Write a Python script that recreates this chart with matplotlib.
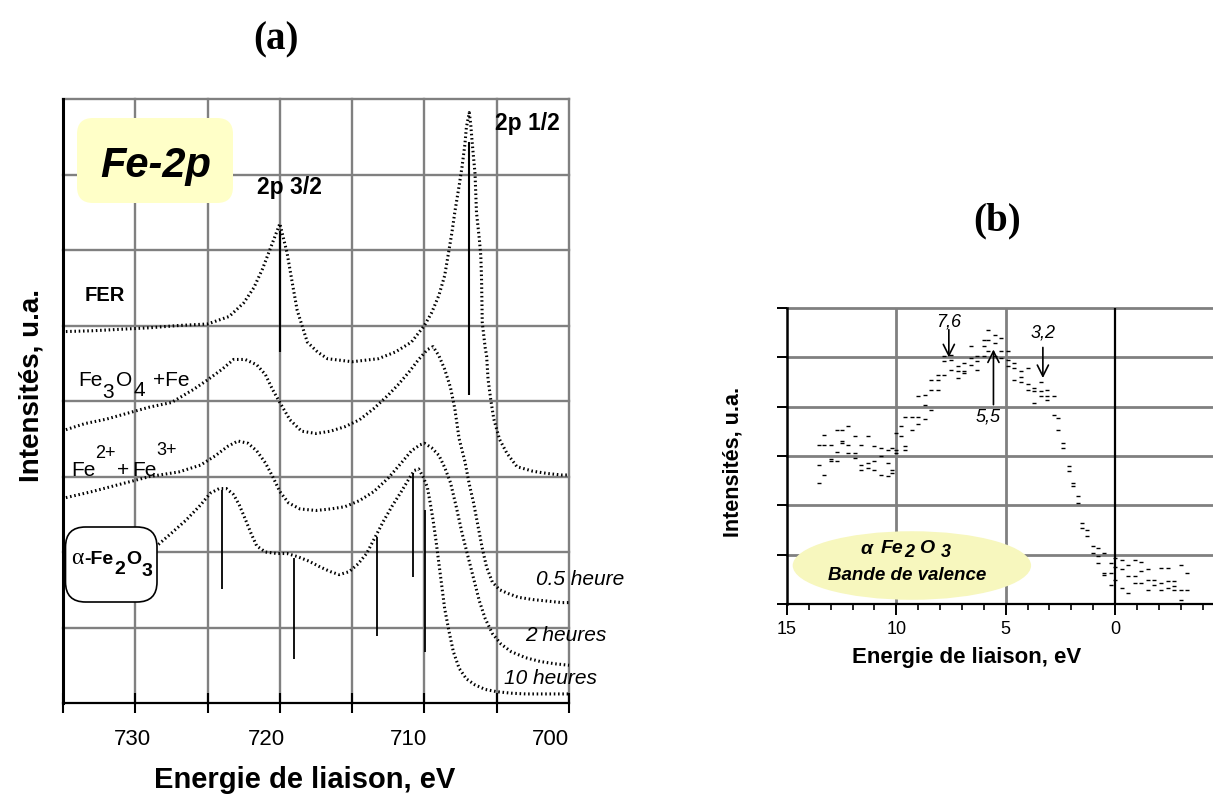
import matplotlib
matplotlib.use('Agg')
import matplotlib.pyplot as plt
from matplotlib.patches import FancyBboxPatch, Ellipse

plt.rcParams['font.family'] = ['Liberation Sans', 'DejaVu Sans']

# ---------------- data : panel (a) Fe-2p spectra ----------------
fer_x = [734.8, 733, 731, 729, 727, 725, 723.5, 722.5, 721.8, 721.2, 720.7, 720.3, 720.0,
         719.5, 719.1, 718.8, 718.6, 718.1, 717.4, 716.7, 715, 713.2, 712, 710.9, 710.0,
         709.5, 709.0, 708.6, 708.3, 708.1, 707.9, 707.6, 707.4, 707.2, 707.1, 706.9,
         706.8, 706.7, 706.5, 706.4, 706.2, 706.1, 706.05, 706.0, 705.8, 705.7, 705.6,
         705.4, 705.2, 704.8, 704.3, 703.6, 702.5, 701.5, 700.5, 700.0]
fer_y = [4.92, 4.93, 4.95, 4.97, 5.0, 5.02, 5.12, 5.3, 5.5, 5.75, 6.0, 6.2, 6.35,
         5.96, 5.52, 5.2, 5.08, 4.78, 4.65, 4.56, 4.52, 4.56, 4.65, 4.78, 5.0,
         5.17, 5.4, 5.66, 6.0, 6.23, 6.5, 6.85, 7.1, 7.4, 7.62, 7.82,
         7.67, 7.43, 7.01, 6.5, 6.14, 5.92, 5.62, 5.04, 4.71, 4.6, 4.29,
         4.0, 3.76, 3.49, 3.31, 3.13, 3.07, 3.04, 3.02, 3.02]

fe3o4_x = [734.8, 733.5, 732, 730.5, 729, 727.5, 726, 725, 724, 723.2, 722.4, 721.6, 721.0,
           720.5, 720.0, 719.3, 718.5, 717.5, 716.5, 715.5, 714.5, 713.5, 712.5, 711.8,
           711.0, 710.4, 709.8, 709.4, 709.0, 708.6, 708.2, 707.9, 707.6, 707.2, 706.9,
           706.6, 706.3, 706.0, 705.7, 705.3, 704.8, 704.2, 703.5, 702.5, 701.5, 700.5, 700.0]
fe3o4_y = [3.62, 3.7, 3.76, 3.84, 3.92, 3.98, 4.15, 4.28, 4.42, 4.55, 4.55, 4.48, 4.35,
           4.15, 3.98, 3.75, 3.6, 3.57, 3.6, 3.66, 3.75, 3.9, 4.08, 4.22,
           4.4, 4.55, 4.68, 4.72, 4.6, 4.42, 4.18, 3.9, 3.5, 3.2, 2.9,
           2.65, 2.35, 2.05, 1.8, 1.6, 1.5, 1.45, 1.4, 1.37, 1.35, 1.33, 1.33]

fe23_x = [734.8, 733, 731, 729, 727, 725.5, 724.5, 723.6, 722.9, 722.2, 721.6, 721.0, 720.5,
          720.0, 719.4, 718.6, 717.5, 716.5, 715.5, 714.5, 713.5, 712.5, 711.6, 710.9, 710.3,
          710.0, 709.5, 709.0, 708.6, 708.2, 707.8, 707.4, 707.0, 706.6, 706.2, 705.8, 705.3,
          704.7, 704, 703, 702, 701, 700]
fe23_y = [2.72, 2.8, 2.9, 3.0, 3.06, 3.15, 3.27, 3.4, 3.47, 3.44, 3.34, 3.18, 3.0,
          2.8, 2.65, 2.57, 2.55, 2.57, 2.6, 2.68, 2.8, 2.98, 3.18, 3.34, 3.42,
          3.44, 3.38, 3.28, 3.12, 2.92, 2.6, 2.25, 1.95, 1.65, 1.35, 1.12, 0.92,
          0.78, 0.68, 0.6, 0.55, 0.52, 0.5]

hema_x = [728.4, 727.5, 726.5, 725.5, 724.8, 724.2, 723.7, 723.2, 722.8, 722.4, 722.0, 721.6,
          721.0, 720.2, 719.5, 718.8, 718.0, 717.2, 716.5, 715.9, 715.2, 714.6, 714.0, 713.4,
          712.8, 712.2, 711.6, 711.1, 710.7, 710.4, 710.1, 709.8, 709.6, 709.4, 709.2, 709.0,
          708.8, 708.6, 708.3, 708.0, 707.6, 707.1, 706.5, 705.8, 705, 704, 703, 702, 701, 700]
hema_y = [2.1, 2.25, 2.42, 2.62, 2.78, 2.84, 2.84, 2.76, 2.62, 2.44, 2.25, 2.08,
          2.0, 1.98, 1.98, 1.94, 1.88, 1.8, 1.74, 1.7, 1.74, 1.84, 1.98, 2.2,
          2.42, 2.62, 2.8, 2.96, 3.08, 3.1, 3.0, 2.86, 2.65, 2.42, 2.15, 1.85,
          1.55, 1.25, 0.95, 0.68, 0.46, 0.32, 0.24, 0.18, 0.15, 0.13, 0.12, 0.12, 0.12, 0.12]

# reference lines (a)
fer_lines_x = [720.0, 706.9]
fer_lines_top = [6.25, 7.43]
fer_lines_bot = [4.65, 4.08]
hema_lines_x = [724.0, 719.0, 713.3, 710.8, 709.95]
hema_lines_top = [2.82, 1.92, 2.2, 3.05, 2.55]
hema_lines_bot = [1.51, 0.58, 0.89, 1.67, 0.68]

a_xticks = [735, 730, 725, 720, 715, 710, 705, 700]
a_xticklabels = ['730', '720', '710', '700']
a_xticklabel_at = [730.2, 720.9, 711.1, 701.3]

# ---------------- data : panel (b) valence band ----------------
vb_x = [13.55, 13.55, 13.55, 13.3, 13.3, 13.3, 13.0, 13.0, 13.0, 12.7, 12.7, 12.7,
        12.5, 12.5, 12.5, 12.2, 12.2, 12.2, 11.9, 11.9, 11.9, 11.6, 11.6, 11.6,
        11.3, 11.3, 11.3, 11.0, 11.0, 11.0, 10.7, 10.7, 10.7, 10.4, 10.4, 10.4,
        10.2, 10.2, 10.2, 10.0, 10.0, 10.0, 9.8, 9.8, 9.6, 9.6, 9.6, 9.3, 9.3,
        9.0, 9.0, 9.0, 8.7, 8.7, 8.7, 8.4, 8.4, 8.4, 8.1, 8.1, 8.1, 7.8, 7.8, 7.8,
        7.5, 7.5, 7.5, 7.2, 7.2, 7.2, 6.9, 6.9, 6.9, 6.6, 6.6, 6.6, 6.3, 6.3, 6.3,
        6.0, 6.0, 6.0, 5.8, 5.8, 5.8, 5.5, 5.5, 5.5, 5.2, 5.2, 5.2, 4.9, 4.9, 4.9,
        4.6, 4.6, 4.6, 4.3, 4.3, 4.3, 4.0, 4.0, 4.0, 3.7, 3.7, 3.7, 3.4, 3.4, 3.4,
        3.1, 3.1, 3.1, 2.8, 2.8, 2.6, 2.6, 2.4, 2.4, 2.1, 2.1, 1.9, 1.9, 1.7, 1.7,
        1.5, 1.5, 1.3, 1.3, 1.0, 1.0, 0.8, 0.8, 0.8, 0.5, 0.5, 0.5, 0.2, 0.2, 0.2,
        0.0, 0.0, 0.0, -0.3, -0.3, -0.3, -0.6, -0.6, -0.6, -0.9, -0.9, -0.9,
        -1.2, -1.2, -1.2, -1.5, -1.5, -1.5, -1.8, -1.8, -2.1, -2.1, -2.1,
        -2.4, -2.4, -2.4, -2.7, -2.7, -2.7, -3.0, -3.0, -3.0, -3.3, -3.3]
vb_y = [2.45, 2.82, 3.23, 3.43, 2.62, 3.23, 3.23, 2.93, 2.89, 3.53, 3.09, 2.89,
        3.26, 3.30, 3.53, 3.60, 3.23, 3.06, 3.40, 3.06, 2.96, 2.82, 2.72, 3.23,
        3.40, 2.86, 2.76, 3.20, 2.89, 2.72, 3.16, 2.99, 2.62, 3.13, 2.86, 2.59,
        3.16, 2.72, 2.66, 3.47, 3.13, 3.06, 3.60, 3.40, 3.80, 3.20, 3.13, 3.53, 3.80,
        4.21, 3.80, 3.64, 4.24, 4.04, 3.74, 4.55, 4.34, 3.94, 4.55, 4.65, 4.34, 5.02, 4.92, 4.65,
        5.05, 4.95, 4.75, 4.82, 4.72, 4.58, 4.89, 4.72, 4.68, 5.22, 4.99, 4.85, 5.02, 4.92, 4.75,
        5.36, 5.22, 5.02, 5.56, 5.36, 5.12, 5.46, 5.29, 5.02, 5.39, 5.12, 4.99, 5.12, 4.95, 4.82,
        4.89, 4.78, 4.55, 4.72, 4.61, 4.51, 4.78, 4.45, 4.34, 4.38, 4.31, 4.07, 4.51, 4.31, 4.21,
        4.34, 4.21, 4.14, 4.21, 3.84, 3.77, 3.53, 3.26, 3.16, 2.79, 2.69, 2.45, 2.39, 2.18, 2.05,
        1.64, 1.54, 1.51, 1.37, 1.17, 1.03, 1.14, 0.97, 0.83, 1.03, 0.63, 0.59, 0.83, 0.63, 0.39,
        0.93, 0.76, 0.49, 0.90, 0.70, 0.32, 0.80, 0.56, 0.22, 0.90, 0.56, 0.43,
        0.86, 0.66, 0.43, 0.70, 0.49, 0.29, 0.49, 0.39, 0.73, 0.43, 0.29,
        0.73, 0.46, 0.32, 0.46, 0.36, 0.29, 0.80, 0.29, 0.09, 0.63, 0.29]

b_xticks = [15, 10, 5, 0]
b_xticklabels = ['15', '10', '5', '0']

# ---------------- figure ----------------
W, H = 1213, 799
fig = plt.figure(figsize=(W / 100, H / 100), dpi=100)


def fx(px):
    return px / W


def fy(py):
    return 1 - py / H


def ptext(x, y, s, **kw):
    """text placed in pixel coordinates (origin top-left), baseline anchored"""
    kw.setdefault('va', 'baseline')
    kw.setdefault('ha', 'left')
    return fig.text(fx(x), fy(y), s, **kw)


GRID = '#808080'

# ====== panel (a) ======
ax = fig.add_axes([fx(63), fy(703), (569 - 63) / W, (703 - 99) / H])
ax.set_xlim(735, 700)
ax.set_ylim(0, 8)
for v in a_xticks[1:]:
    ax.axvline(v, color=GRID, lw=1.7, zorder=0, clip_on=False)
for h in range(1, 9):
    ax.axhline(h, color=GRID, lw=1.7, zorder=0, clip_on=False)
for s in ['top', 'right']:
    ax.spines[s].set_visible(False)
ax.spines['left'].set_linewidth(2.2)
ax.spines['bottom'].set_linewidth(1.6)
ax.set_xticks(a_xticks)
ax.set_xticklabels([])
ax.set_yticks([])
ax.tick_params(axis='x', direction='inout', length=15, width=1.5)
for lab, xv in zip(a_xticklabels, a_xticklabel_at):
    ax.text(xv, -0.48, lab, fontsize=16, ha='center', va='center', clip_on=False)

dot = (0, (0.5, 0.9))
for xs, ys in [(fer_x, fer_y), (fe3o4_x, fe3o4_y), (fe23_x, fe23_y), (hema_x, hema_y)]:
    ax.plot(xs, ys, color='black', lw=2.2, linestyle=dot, zorder=3, clip_on=False)

ax.vlines(fer_lines_x, fer_lines_bot, fer_lines_top, color='black', lw=1.5, zorder=4)
ax.vlines(hema_lines_x, hema_lines_bot, hema_lines_top, color='black', lw=1.3, zorder=4)

# Fe-2p box
fig.add_artist(FancyBboxPatch((0.77, 5.96), 1.56, 0.85, boxstyle='round,pad=0,rounding_size=0.16',
                              transform=fig.dpi_scale_trans, fc='#FFFFC8', ec='none', zorder=5))
fig.text(fx(156), fy(166), 'Fe-2p', fontsize=30, fontweight='bold', fontstyle='italic',
         ha='center', va='center', zorder=6)
# alpha-Fe2O3 box
fig.add_artist(FancyBboxPatch((0.655, 1.97), 0.915, 0.75, boxstyle='round,pad=0,rounding_size=0.2',
                              transform=fig.dpi_scale_trans, fc='white', ec='black', lw=1.2, zorder=5))
ptext(71, 564, 'α', fontsize=17, family='Liberation Serif', zorder=6)
ptext(84, 564, '-Fe', fontsize=14, fontweight='bold', zorder=6)
ptext(114, 574, '2', fontsize=14, fontweight='bold', zorder=6)
ptext(126, 564, 'O', fontsize=14, fontweight='bold', zorder=6)
ptext(142, 576, '3', fontsize=14, fontweight='bold', zorder=6)

ax.text(719.37, 6.83, '2p 3/2', fontsize=16.5, fontweight='bold', ha='center', va='center')
ax.text(702.9, 7.68, '2p 1/2', fontsize=16.5, fontweight='bold', ha='center', va='center')
ax.text(732.1, 5.40, 'FER', fontsize=14.5, fontweight='bold', ha='center', va='center')

# Fe3O4 +Fe
ptext(78, 386, 'Fe', fontsize=15)
ptext(102, 398, '3', fontsize=15)
ptext(116, 386, 'O', fontsize=15)
ptext(133, 396, '4', fontsize=15)
ptext(153, 386, '+Fe', fontsize=15)
# Fe2+ + Fe3+
ptext(71, 476, 'Fe', fontsize=15)
ptext(95, 458, '2+', fontsize=13)
ptext(117, 476, '+', fontsize=15)
ptext(132, 476, 'Fe', fontsize=15)
ptext(156, 455, '3+', fontsize=13)

ax.text(699.2, 1.63, '0.5 heure', fontsize=15, fontstyle='italic', ha='center', va='center', clip_on=False)
ax.text(700.2, 0.90, '2 heures', fontsize=15, fontstyle='italic', ha='center', va='center', clip_on=False)
ax.text(701.3, 0.33, '10 heures', fontsize=15, fontstyle='italic', ha='center', va='center', clip_on=False)

fig.text(fx(276), fy(40), '(a)', fontsize=28, fontweight='bold', family='Liberation Serif',
         ha='center', va='center')
fig.text(fx(32), fy(385), 'Intensités, u.a.', fontsize=20, fontweight='bold', rotation=90,
         ha='center', va='center')
fig.text(fx(305), fy(780), 'Energie de liaison, eV', fontsize=21, fontweight='bold',
         ha='center', va='center')

# ====== panel (b) ======
bx = fig.add_axes([fx(787), fy(604), (W - 787) / W, (604 - 308) / H])
bx.set_xlim(15, 15 - (W - 787) / 21.87)
bx.set_ylim(0, 6)
for v in [10, 5]:
    bx.axvline(v, color=GRID, lw=2.0, zorder=0)
bx.axvline(0, color='black', lw=1.6, zorder=1)
for h in range(1, 7):
    bx.axhline(h, color=GRID, lw=2.0, zorder=0, clip_on=False)
for s in ['top', 'right']:
    bx.spines[s].set_visible(False)
bx.spines['left'].set_linewidth(1.8)
bx.spines['bottom'].set_linewidth(1.6)
bx.set_xticks(b_xticks)
bx.set_xticklabels(b_xticklabels)
bx.set_xticks(list(range(15, -5, -1)), minor=True)
bx.set_yticks(range(0, 7))
bx.set_yticklabels([])
bx.tick_params(axis='x', which='major', direction='out', length=8, width=1.4, labelsize=13, pad=4)
bx.tick_params(axis='x', which='minor', direction='out', length=4.5, width=1.2)
bx.tick_params(axis='y', which='major', direction='out', length=7, width=1.4)

bx.add_patch(Ellipse((9.29, 0.78), 10.9, 1.39, fc='#F7F7BE', ec='none', zorder=2))
ptext(860, 554, 'α', fontsize=14, fontweight='bold', fontstyle='italic', zorder=6)
ptext(881, 553, 'Fe', fontsize=14, fontweight='bold', fontstyle='italic', zorder=6)
ptext(904, 557, '2', fontsize=13, fontweight='bold', fontstyle='italic', zorder=6)
ptext(919, 553, 'O', fontsize=14, fontweight='bold', fontstyle='italic', zorder=6)
ptext(941, 557, '3', fontsize=13, fontweight='bold', fontstyle='italic', zorder=6)
ptext(907, 580, 'Bande de valence', fontsize=13.5, fontweight='bold', fontstyle='italic',
      ha='center', zorder=6)

bx.plot(vb_x, vb_y, linestyle='none', marker='_', ms=3, mew=1.0, color='black', zorder=4)

arrow = dict(arrowstyle='->', lw=1.2, color='black', shrinkA=0, shrinkB=0, mutation_scale=20)
bx.annotate('', xy=(7.6, 5.0), xytext=(7.6, 5.56), arrowprops=arrow, zorder=5)
bx.text(7.6, 5.72, '7,6', fontsize=13, fontstyle='italic', ha='center', va='center')
bx.annotate('', xy=(5.56, 5.16), xytext=(5.56, 4.04), arrowprops=arrow, zorder=5)
bx.text(5.79, 3.8, '5,5', fontsize=13, fontstyle='italic', ha='center', va='center')
bx.annotate('', xy=(3.3, 4.58), xytext=(3.3, 5.2), arrowprops=arrow, zorder=5)
bx.text(3.3, 5.49, '3,2', fontsize=13, fontstyle='italic', ha='center', va='center')

fig.text(fx(997), fy(221), '(b)', fontsize=28, fontweight='bold', family='Liberation Serif',
         ha='center', va='center')
fig.text(fx(733), fy(462), 'Intensités, u.a.', fontsize=15.5, fontweight='bold', rotation=90,
         ha='center', va='center')
fig.text(fx(967), fy(658), 'Energie de liaison, eV', fontsize=16, fontweight='bold',
         ha='center', va='center')

fig.savefig('out.png', dpi=100)
